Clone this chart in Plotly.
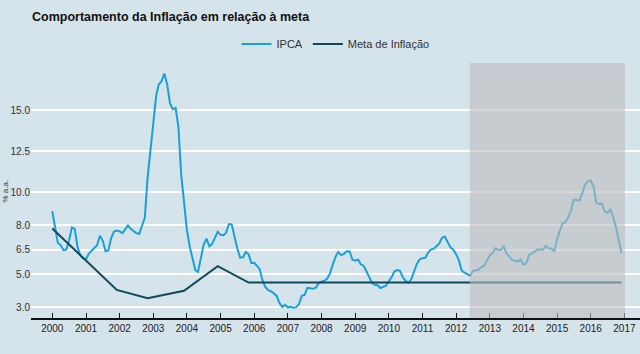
import pandas as pd
import plotly.graph_objects as go

# IPCA 12-month accumulated (%), monthly Jan 2000 - Dec 2016
ipca_2000 = [8.85, 7.86, 6.92, 6.77, 6.47, 6.51, 7.06, 7.86, 7.77, 6.66, 6.14, 5.97]
ipca_2001 = [5.92, 6.27, 6.44, 6.61, 6.77, 7.35, 7.06, 6.41, 6.46, 7.21, 7.61, 7.67]
ipca_2002 = [7.62, 7.51, 7.75, 7.98, 7.77, 7.66, 7.51, 7.46, 7.93, 8.45, 10.93, 12.53]
ipca_2003 = [14.47, 15.85, 16.57, 16.77, 17.24, 16.57, 15.43, 15.07, 15.14, 13.98, 11.02, 9.30]
ipca_2004 = [7.71, 6.69, 5.89, 5.26, 5.15, 6.06, 6.81, 7.18, 6.71, 6.86, 7.24, 7.60]
ipca_2005 = [7.41, 7.39, 7.54, 8.07, 8.05, 7.27, 6.57, 6.02, 6.04, 6.36, 6.22, 5.69]
ipca_2006 = [5.70, 5.51, 5.32, 4.63, 4.23, 4.03, 3.97, 3.84, 3.70, 3.26, 3.02, 3.14]
ipca_2007 = [2.99, 3.02, 2.96, 3.00, 3.18, 3.69, 3.74, 4.18, 4.15, 4.12, 4.19, 4.46]
ipca_2008 = [4.56, 4.61, 4.73, 5.04, 5.58, 6.06, 6.37, 6.17, 6.25, 6.41, 6.39, 5.90]
ipca_2009 = [5.84, 5.90, 5.61, 5.53, 5.20, 4.80, 4.50, 4.36, 4.34, 4.17, 4.22, 4.31]
ipca_2010 = [4.59, 4.83, 5.17, 5.26, 5.22, 4.84, 4.60, 4.49, 4.70, 5.20, 5.63, 5.91]
ipca_2011 = [5.99, 6.01, 6.30, 6.51, 6.55, 6.71, 6.87, 7.23, 7.31, 6.97, 6.64, 6.50]
ipca_2012 = [6.22, 5.85, 5.24, 5.10, 4.99, 4.92, 5.20, 5.24, 5.28, 5.45, 5.53, 5.84]
ipca_2013 = [6.15, 6.31, 6.59, 6.49, 6.50, 6.70, 6.27, 6.09, 5.86, 5.84, 5.77, 5.91]
ipca_2014 = [5.59, 5.68, 6.15, 6.28, 6.37, 6.52, 6.50, 6.51, 6.75, 6.59, 6.56, 6.41]
ipca_2015 = [7.14, 7.70, 8.13, 8.17, 8.47, 8.89, 9.56, 9.53, 9.49, 9.93, 10.48, 10.67]
ipca_2016 = [10.71, 10.36, 9.39, 9.28, 9.32, 8.84, 8.74, 8.97, 8.48, 7.87, 6.99, 6.29]

ipca_values = (ipca_2000 + ipca_2001 + ipca_2002 + ipca_2003 + ipca_2004 + ipca_2005
               + ipca_2006 + ipca_2007 + ipca_2008 + ipca_2009 + ipca_2010 + ipca_2011
               + ipca_2012 + ipca_2013 + ipca_2014 + ipca_2015 + ipca_2016)
ipca_dates = pd.date_range("2000-01-01", periods=len(ipca_values), freq="MS")

# Inflation target line (breakpoints)
meta_dates = ["2000-01-01", "2001-12-01", "2002-11-01", "2003-12-01",
              "2004-12-01", "2005-11-01", "2016-12-01"]
meta_values = [7.8, 4.05, 3.55, 4.0, 5.5, 4.5, 4.5]

y_tickvals = [3.0, 5.0, 6.5, 8.0, 10.0, 12.5, 15.0]
x_tickvals = [f"{y}-01-01" for y in range(2000, 2018)]
x_ticktext = [str(y) for y in range(2000, 2018)]

shade_start = "2012-05-29"
shade_end = "2017-01-07"

BG = "#d5e3ea"

fig = go.Figure()
fig.add_trace(go.Scatter(x=ipca_dates, y=ipca_values, mode="lines", name="IPCA",
                         line=dict(color="#1aa0d8", width=2)))
fig.add_trace(go.Scatter(x=meta_dates, y=meta_values, mode="lines", name="Meta de Inflação",
                         line=dict(color="#0e4a5c", width=2)))

fig.add_shape(type="rect", xref="x", yref="paper", x0=shade_start, x1=shade_end,
              y0=0, y1=1, fillcolor="rgba(188,188,188,0.6)", line=dict(width=0),
              layer="above")

fig.update_layout(
    width=640, height=354,
    margin=dict(l=31, r=0, t=63, b=36),
    paper_bgcolor=BG, plot_bgcolor=BG,
    font=dict(family="Liberation Sans, Arial, sans-serif", color="#333333", size=10),
    title=dict(text="Comportamento da Inflação em relação à meta",
               x=0.05, xanchor="left", xref="container",
               y=1 - 17 / 354, yanchor="middle", yref="container",
               font=dict(size=12.5, color="#111111", weight="bold")),
    legend=dict(orientation="h", x=0.5, xanchor="center", y=1.075, yanchor="middle",
                bgcolor="rgba(0,0,0,0)", font=dict(size=11, color="#333333"),
                itemwidth=30),
    showlegend=True,
    xaxis=dict(type="date", range=["1999-05-15", "2017-06-19"],
               tickvals=x_tickvals, ticktext=x_ticktext,
               showgrid=False, zeroline=False,
               showline=True, linecolor="#111111", linewidth=1.5,
               ticks="inside", ticklen=5, tickcolor="#111111", tickwidth=1,
               tickfont=dict(size=10, color="#222222")),
    yaxis=dict(range=[2.34, 17.88], tickvals=y_tickvals, tickformat=".1f",
               showgrid=True, gridcolor="#ffffff", gridwidth=2,
               zeroline=False, showline=False, ticks="",
               tickfont=dict(size=10, color="#333333")),
)

fig.add_annotation(text="% a.a.", xref="paper", yref="paper", x=(5 - 31) / 609, y=0.5,
                   xanchor="center", yanchor="middle", textangle=-90, showarrow=False,
                   font=dict(size=8, color="#333333"))

fig.write_html("out.html")
